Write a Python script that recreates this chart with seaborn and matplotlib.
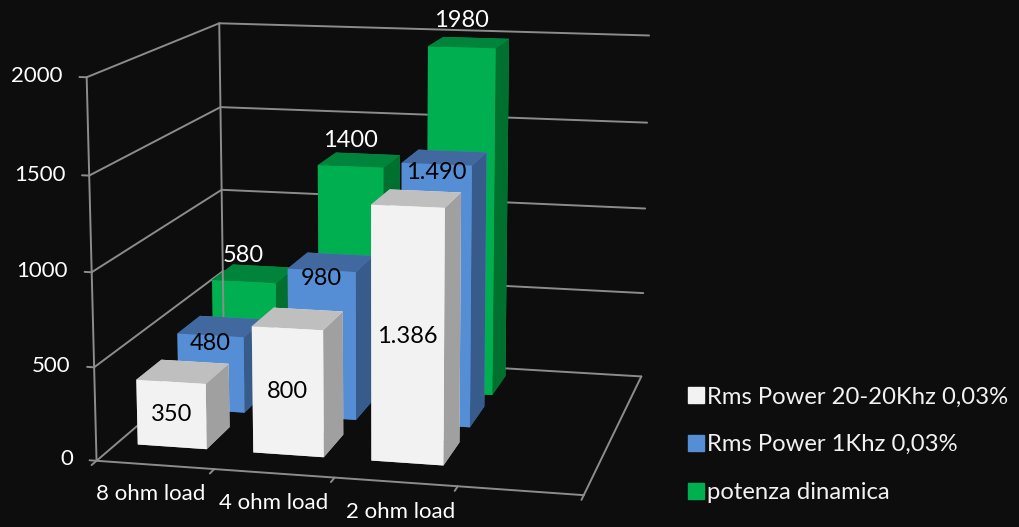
import numpy as np
import pandas as pd
import seaborn as sns
import matplotlib.pyplot as plt
from matplotlib.lines import Line2D
from mpl_toolkits.mplot3d import proj3d

# ----------------------------------------
# data
# bar heights are measured, the printed labels do not always agree with them
# ----------------------------------------
categories = ["8 ohm load", "4 ohm load", "2 ohm load", ""]
series = ["Rms Power 20-20Khz 0,03%", "Rms Power 1Khz 0,03%", "potenza dinamica"]
white_vals = [355, 680, 1350]
blue_vals = [430, 830, 1440]
green_vals = [585, 1285, 1980]
white_labels = ["350", "800", "1.386"]
blue_labels = ["480", "980", "1.490"]
green_labels = ["580", "1400", "1980"]
z_ticks = [0, 500, 1000, 1500, 2000]

BG = "#0D0D0D"
GRID = "#8C8C8C"

sns.set_theme(style="dark", rc={"figure.facecolor": BG, "axes.facecolor": BG, "savefig.facecolor": BG})
plt.rcParams["font.family"] = ["Lato", "DejaVu Sans"]

front = sns.color_palette(["#F2F2F2", "#558ED5", "#00B050"])
top = sns.color_palette(["#BFBFBF", "#41699F", "#00833B"])
side = sns.color_palette(["#A0A0A0", "#375C8C", "#00702F"])

df = pd.DataFrame({
    "category": categories[:3] * 3,
    "series": np.repeat(series, 3),
    "value": white_vals + blue_vals + green_vals,
    "label": white_labels + blue_labels + green_labels,
})

fig = plt.figure(figsize=(10.19, 5.27), dpi=100)
ax = fig.add_axes([-0.125, -0.428, 0.98, 1.9], projection="3d")
ax.set_proj_type("persp", focal_length=0.45)
ax.view_init(elev=12, azim=-77)
ax.set_xlim(0, 4)
ax.set_ylim(0, 3)
ax.set_zlim(0, 2000)
ax.set_xticks([])
ax.set_yticks([])
ax.set_zticks([])
ax.set_box_aspect((4, 3.6, 3.15), zoom=0.71)
ax.set_axis_off()
ax.patch.set_facecolor(BG)

bar_w = 0.6
bar_d = 0.55
rows = [0.7, 1.63, 2.5]


def label(x, y, z, text, **kw):
    # text stays flat on screen, only its anchor goes through the 3d projection
    px, py, _ = proj3d.proj_transform(x, y, z, ax.get_proj())
    ax.text2D(px, py, text, transform=ax.transData, zorder=50, **kw)


# walls and floor lines
for z in z_ticks:
    ax.plot([0, 0, 4], [0, 3, 3], [z, z, z], color=GRID, lw=1.4, zorder=1)
    ax.plot([0, -0.06], [0, 0], [z, z], color=GRID, lw=1.4)
    label(-0.2, 0, z, str(z), color="white", fontsize=16, ha="right", va="center")
ax.plot([0, 0], [0, 0], [0, 2000], color=GRID, lw=1.4)
ax.plot([0, 0], [3, 3], [0, 2000], color=GRID, lw=1.4)
ax.plot([0, 4, 4], [0, 0, 3], [0, 0, 0], color=GRID, lw=1.4)
for i in range(5):
    ax.plot([i, i], [0, -0.1], [0, 0], color=GRID, lw=1.4)

for i, cat in enumerate(categories[:3]):
    label(i + 0.7, -0.6, 0, cat, color="white", fontsize=16, ha="center", va="center")

# bars
for s, name in enumerate(series):
    sub = df[df["series"] == name]
    for i, (val, lab) in enumerate(zip(sub["value"], sub["label"])):
        x0 = i + 0.48 - bar_w / 2
        y0 = rows[s] - bar_d / 2
        ax.bar3d(x0, y0, 0, bar_w, bar_d, val, shade=False, edgecolor="none", linewidth=0,
                 color=[top[s], top[s], front[s], front[s], side[s], side[s]])
        if s == 2:
            label(i + 0.48, y0, val + 90, lab, color="white", fontsize=17, ha="center", va="bottom")
        elif s == 1:
            label(i + 0.48, y0, val - 45, lab, color="black", fontsize=17, ha="center", va="center")
        else:
            label(i + 0.48, y0, val * 0.5, lab, color="black", fontsize=17, ha="center", va="center")

handles = [Line2D([], [], ls="", marker="s", ms=11, color=c) for c in front]
fig.legend(handles, series, loc="lower left", bbox_to_anchor=(0.638, 0.005), frameon=False,
           labelcolor="#F2F2F2", fontsize=17.2, labelspacing=1.12, handletextpad=-0.5)

fig.savefig("out.png", dpi=100)
